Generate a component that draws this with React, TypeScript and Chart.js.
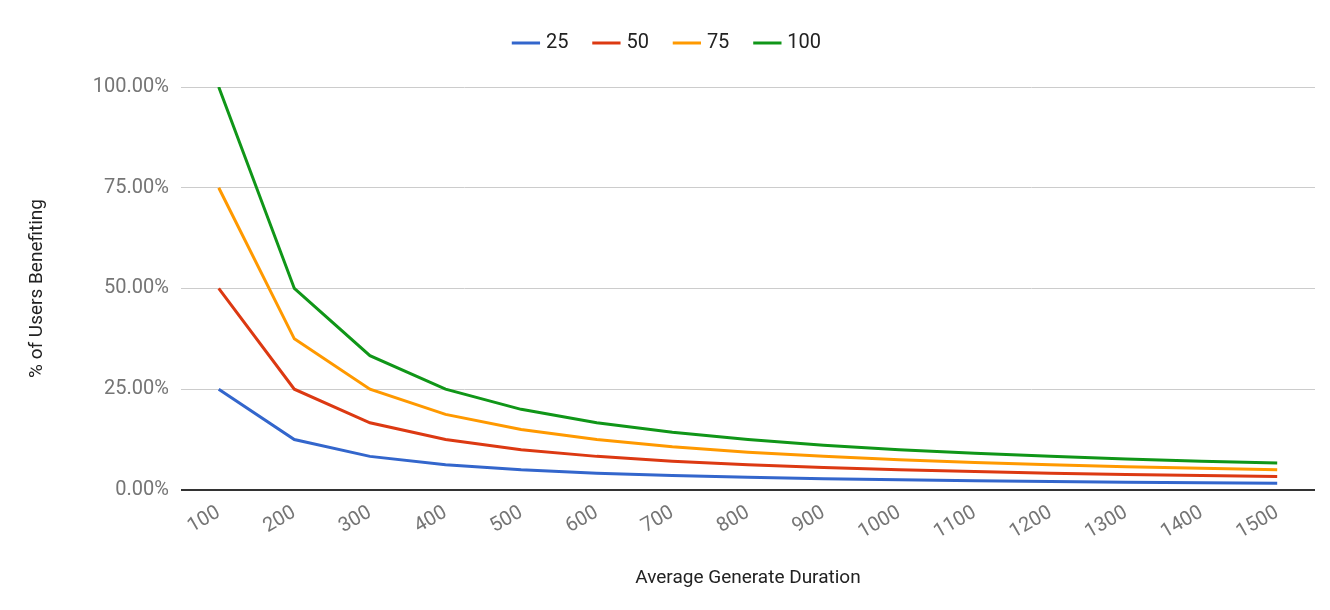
import { useEffect, useRef } from 'react';
import Chart from 'chart.js/auto';

const durations = ['100', '200', '300', '400', '500', '600', '700', '800', '900', '1000', '1100', '1200', '1300', '1400', '1500'];
const s25 = [25, 12.5, 8.33, 6.25, 5, 4.17, 3.57, 3.13, 2.78, 2.5, 2.27, 2.08, 1.92, 1.79, 1.67];
const s50 = [50, 25, 16.67, 12.5, 10, 8.33, 7.14, 6.25, 5.56, 5, 4.55, 4.17, 3.85, 3.57, 3.33];
const s75 = [75, 37.5, 25, 18.75, 15, 12.5, 10.71, 9.38, 8.33, 7.5, 6.82, 6.25, 5.77, 5.36, 5];
const s100 = [100, 50, 33.33, 25, 20, 16.67, 14.29, 12.5, 11.11, 10, 9.09, 8.33, 7.69, 7.14, 6.67];
const yTicks = [0, 25, 50, 75, 100];

// extra room below the legend
const legendSpace = {
  id: 'legendSpace',
  beforeInit(chart: any) {
    const orig = chart.legend.fit;
    chart.legend.fit = function fit() {
      orig.bind(chart.legend)();
      this.height += 24;
    };
  },
};

export default function App() {
  const canvasRef = useRef<HTMLCanvasElement | null>(null);

  useEffect(() => {
    if (!canvasRef.current) return;
    const mk = (label: string, data: number[], color: string) => ({
      label, data, borderColor: color, backgroundColor: color,
      borderWidth: 3, pointRadius: 0, tension: 0, fill: false,
    });
    const chart = new Chart(canvasRef.current, {
      type: 'line',
      data: {
        labels: durations,
        datasets: [
          mk('25', s25, '#3366cc'),
          mk('50', s50, '#dc3912'),
          mk('75', s75, '#ff9900'),
          mk('100', s100, '#109618'),
        ],
      },
      plugins: [legendSpace],
      options: {
        animation: false,
        responsive: false,
        layout: { padding: { left: 22, right: 15, top: 5, bottom: 16 } },
        plugins: {
          tooltip: { enabled: false },
          legend: {
            labels: {
              usePointStyle: true, pointStyle: 'line', boxWidth: 30,
              font: { family: 'Roboto', size: 20 }, color: '#222', padding: 28,
            },
          },
        },
        scales: {
          x: {
            offset: true,
            grid: { display: false },
            border: { display: false },
            ticks: { maxRotation: 30, minRotation: 30, color: '#757575', font: { family: 'Roboto', size: 20 }, autoSkip: false },
            title: { display: true, text: 'Average Generate Duration', color: '#222', font: { family: 'Roboto', size: 19 }, padding: { top: 20 } },
          },
          y: {
            min: 0, max: 100,
            afterBuildTicks: (ax) => { ax.ticks = yTicks.map((v) => ({ value: v })); },
            border: { display: false },
            grid: { color: (c) => (c.tick && c.tick.value === 0 ? '#333' : '#ccc'), lineWidth: (c) => (c.tick && c.tick.value === 0 ? 2 : 1), drawTicks: false },
            ticks: { padding: 12, color: '#757575', font: { family: 'Roboto', size: 20 }, callback: (v) => Number(v).toFixed(2) + '%' },
            title: { display: true, text: '% of Users Benefiting', color: '#222', font: { family: 'Roboto', size: 19 }, padding: { bottom: 32 } },
          },
        },
      },
    });
    return () => chart.destroy();
  }, []);

  return (
    <div style={{ position: 'fixed', left: 0, top: 0, background: '#fff' }}>
      <canvas ref={canvasRef} width={1330} height={610} style={{ display: 'block' }} />
    </div>
  );
}
